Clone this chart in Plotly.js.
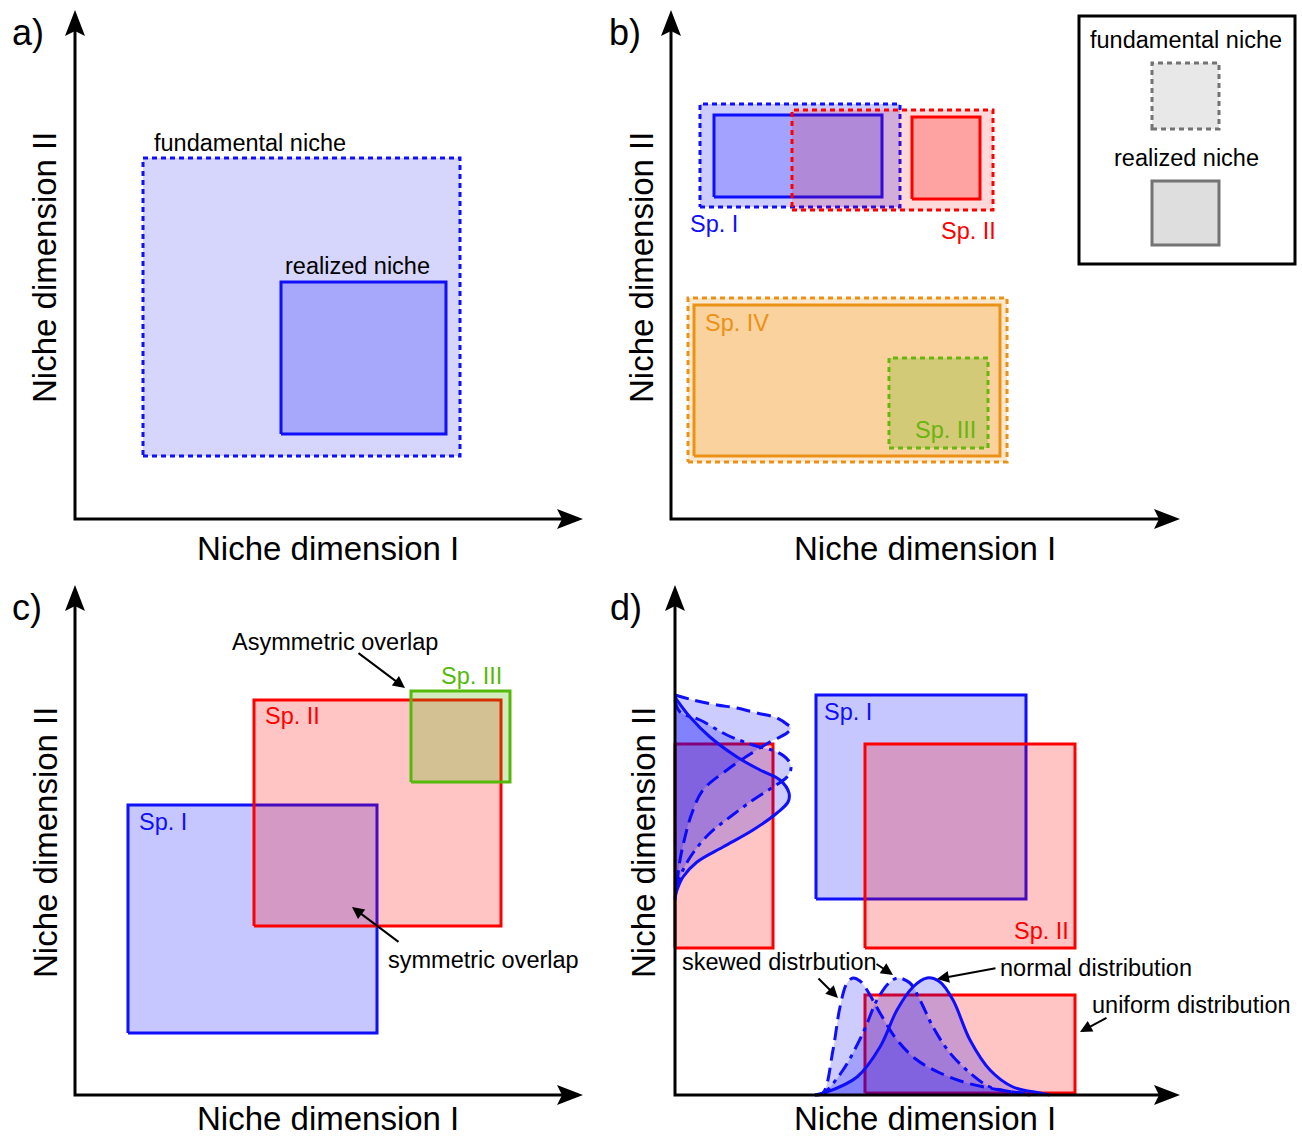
<!DOCTYPE html>
<html><head><meta charset="utf-8">
<script src="https://cdn.plot.ly/plotly-3.0.1.min.js"></script>
<style>html,body{margin:0;padding:0;background:#fff;}</style>
</head><body>
<div id="chart" style="width:1302px;height:1138px;"></div>
<script>
// ================= DATA (units: px from each panel's axis origin, y upward) =================
const panelLabels = ['a)', 'b)', 'c)', 'd)'];
const axisTitleX = 'Niche dimension I';
const axisTitleY = 'Niche dimension II';
const axisTipX = [508, 509, 508, 505];
const axisTipY = [509, 509, 510, 510];

// panel a
const aNames = ['fundamental niche', 'realized niche'];
const aX0 = [68, 206], aX1 = [385, 371], aY0 = [63, 85], aY1 = [361, 237];

// panel b
const bNames = ['Sp. I fund', 'Sp. I real', 'Sp. II fund', 'Sp. II real', 'Sp. IV fund', 'Sp. IV real', 'Sp. III fund'];
const bX0 = [29, 43, 121, 241, 17, 23, 218];
const bX1 = [229, 211, 322, 309, 336, 329, 317];
const bY0 = [312, 322, 309, 320, 57, 63, 71];
const bY1 = [415, 404, 409, 402, 221, 214, 161];
const legendItems = ['fundamental niche', 'realized niche'];

// panel c
const cNames = ['Sp. I', 'Sp. II', 'Sp. III'];
const cX0 = [53, 179, 336], cX1 = [302, 426, 435], cY0 = [62, 169, 313], cY1 = [290, 395, 404];

// panel d
const dNames = ['Sp. I', 'Sp. II', 'uniform dim II', 'uniform dim I'];
const dX0 = [141, 190, 0, 190], dX1 = [351, 400, 98, 400], dY0 = [196, 147, 147, 2], dY1 = [400, 351, 351, 100];

// distributions along niche dimension II (x = density, y = position)
const vSkewDens = [0, 18, 42, 62, 82, 102, 113, 116, 112, 95, 77, 52, 28, 17, 10, 5, 2, 0];
const vSkewPos  = [400, 395, 390, 387, 382, 377, 370, 367, 362, 353, 342, 325, 305, 282, 258, 235, 212, 195];
const vMidDens  = [0, 5, 25, 52, 78, 102, 113, 116, 112, 98, 78, 55, 35, 18, 8, 3, 0];
const vMidPos   = [395, 383, 375, 360, 350, 343, 335, 327, 318, 308, 295, 278, 262, 242, 225, 212, 200];
const vNormDens = [0, 2, 15, 35, 62, 85, 105, 114, 113, 102, 78, 48, 22, 8, 2, 0];
const vNormPos  = [398, 395, 378, 358, 338, 325, 315, 302, 293, 282, 265, 248, 233, 218, 205, 198];

// distributions along niche dimension I (x = position, y = density)
const hSkewPos  = [140, 148, 158, 165, 172, 178, 185, 192, 205, 222, 242, 265, 292, 325, 355];
const hSkewDens = [0, 2, 45, 88, 112, 117, 114, 105, 82, 55, 35, 22, 12, 5, 1];
const hMidPos   = [143, 150, 168, 188, 202, 215, 223, 235, 245, 258, 275, 295, 315, 338, 355];
const hMidDens  = [0, 3, 25, 62, 95, 113, 117, 112, 95, 68, 42, 22, 8, 3, 0];
const hNormPos  = [140, 152, 182, 205, 222, 238, 252, 265, 278, 295, 315, 338, 365, 375];
const hNormDens = [0, 3, 18, 48, 85, 108, 117, 113, 95, 55, 25, 8, 2, 0];

// ================= LAYOUT HELPERS =================
const W = 1302, H = 1138;
const FONT = 'Liberation Sans, Arial, sans-serif';
const origins = [[75, 519], [671, 519], [75, 1095], [675, 1095]];
const XR = [-12, 520], YR = [-12, 517];
const BLUE = 'rgb(15,15,250)', RED = 'rgb(255,0,0)', ORANGE = 'rgb(234,145,22)', GREEN = 'rgb(105,180,15)', GREENC = 'rgb(85,185,10)';

const px2paperX = p => p / W;
const px2paperY = p => 1 - p / H;
const sfx = i => (i === 0 ? '' : String(i + 1));

const traces = [];
function rect(i, x0, x1, y0, y1, fill, lineColor, dash, width) {
  traces.push({
    type: 'scatter', mode: 'lines', xaxis: 'x' + sfx(i), yaxis: 'y' + sfx(i),
    x: [x0, x1, x1, x0, x0], y: [y0, y0, y1, y1, y0],
    fill: 'toself', fillcolor: fill,
    line: {color: lineColor, width: width || 3, dash: dash || 'solid'},
    hoverinfo: 'skip', showlegend: false, cliponaxis: false
  });
}
function curve(i, xs, ys, fillMode, dash) {
  traces.push({
    type: 'scatter', mode: 'lines', xaxis: 'x' + sfx(i), yaxis: 'y' + sfx(i),
    x: xs, y: ys, fill: fillMode, fillcolor: 'rgba(0,0,255,0.2)',
    line: {color: BLUE, width: 3, dash: dash, shape: 'spline', smoothing: 1},
    hoverinfo: 'skip', showlegend: false
  });
}
function axesLine(i) {
  traces.push({
    type: 'scatter', mode: 'lines', xaxis: 'x' + sfx(i), yaxis: 'y' + sfx(i),
    x: [0, 0, axisTipX[i] - 20], y: [axisTipY[i] - 20, 0, 0],
    line: {color: 'black', width: 3}, hoverinfo: 'skip', showlegend: false
  });
}

// panel a
const aStyle = [
  ['rgb(214,214,252)', BLUE, '5px,4px'],
  ['rgb(167,167,252)', BLUE, 'solid']
];
aNames.forEach((n, k) => rect(0, aX0[k], aX1[k], aY0[k], aY1[k], aStyle[k][0], aStyle[k][1], aStyle[k][2]));
axesLine(0);

// panel b
const bStyle = [
  ['rgba(0,0,255,0.2)', BLUE, '5px,4px'],
  ['rgba(0,0,255,0.2)', BLUE, 'solid'],
  ['rgba(255,0,0,0.15)', RED, '5px,4px'],
  ['rgba(255,0,0,0.25)', RED, 'solid'],
  ['rgba(240,150,30,0.22)', ORANGE, '5px,4px'],
  ['rgba(240,150,30,0.27)', ORANGE, 'solid'],
  ['rgba(110,180,20,0.27)', GREEN, '5px,4px']
];
bNames.forEach((n, k) => rect(1, bX0[k], bX1[k], bY0[k], bY1[k], bStyle[k][0], bStyle[k][1], bStyle[k][2]));
axesLine(1);

// panel c
const cStyle = [
  ['rgba(0,0,255,0.22)', BLUE],
  ['rgba(255,0,0,0.23)', RED],
  ['rgba(80,180,0,0.25)', GREENC]
];
cNames.forEach((n, k) => rect(2, cX0[k], cX1[k], cY0[k], cY1[k], cStyle[k][0], cStyle[k][1], 'solid'));
axesLine(2);

// panel d
const dStyle = [
  ['rgba(0,0,255,0.22)', BLUE],
  ['rgba(255,0,0,0.23)', RED],
  ['rgba(255,0,0,0.23)', RED],
  ['rgba(255,0,0,0.23)', RED]
];
dNames.forEach((n, k) => rect(3, dX0[k], dX1[k], dY0[k], dY1[k], dStyle[k][0], dStyle[k][1], 'solid'));
curve(3, vSkewDens, vSkewPos, 'tozerox', '14px,7px');
curve(3, vMidDens, vMidPos, 'tozerox', '14px,6px,4px,6px');
curve(3, vNormDens, vNormPos, 'tozerox', 'solid');
curve(3, hSkewPos, hSkewDens, 'tozeroy', '14px,7px');
curve(3, hMidPos, hMidDens, 'tozeroy', '14px,6px,4px,6px');
curve(3, hNormPos, hNormDens, 'tozeroy', 'solid');
axesLine(3);

// axes domains
const layout = {
  width: W, height: H, margin: {l: 0, r: 0, t: 0, b: 0},
  paper_bgcolor: 'white', plot_bgcolor: 'rgba(0,0,0,0)',
  showlegend: false, shapes: [], annotations: []
};
for (let i = 0; i < 4; i++) {
  const [ox, oy] = origins[i];
  layout['xaxis' + sfx(i)] = {
    domain: [px2paperX(ox + XR[0]), px2paperX(ox + XR[1])], range: XR, visible: false,
    fixedrange: true, anchor: 'y' + sfx(i)
  };
  layout['yaxis' + sfx(i)] = {
    domain: [px2paperY(oy - YR[0]), px2paperY(oy - YR[1])], range: YR, visible: false,
    fixedrange: true, anchor: 'x' + sfx(i)
  };
  // arrowheads (pixel sized, anchored at axis tips)
  layout.shapes.push({
    type: 'path', xref: 'x' + sfx(i), yref: 'y' + sfx(i), xsizemode: 'pixel', ysizemode: 'pixel',
    xanchor: axisTipX[i], yanchor: 0, path: 'M0,0L-26,10L-21,0L-26,-10Z',
    fillcolor: 'black', line: {width: 0}
  });
  layout.shapes.push({
    type: 'path', xref: 'x' + sfx(i), yref: 'y' + sfx(i), xsizemode: 'pixel', ysizemode: 'pixel',
    xanchor: 0, yanchor: axisTipY[i], path: 'M0,0L-10,-26L0,-21L10,-26Z',
    fillcolor: 'black', line: {width: 0}
  });
}

// paper-level texts: panel letters and axis titles
const labelPos = [[28, 32], [625, 32], [27, 607], [626, 607]];
const xTitlePos = [[328, 548], [925, 548], [328, 1118], [925, 1118]];
const yTitlePos = [[45, 268], [642, 268], [45, 843], [643, 843]];
for (let i = 0; i < 4; i++) {
  layout.annotations.push({xref: 'paper', yref: 'paper', x: px2paperX(labelPos[i][0]), y: px2paperY(labelPos[i][1]),
    text: panelLabels[i], showarrow: false, xanchor: 'center', yanchor: 'middle', font: {family: FONT, size: 36, color: 'black'}});
  layout.annotations.push({xref: 'paper', yref: 'paper', x: px2paperX(xTitlePos[i][0]), y: px2paperY(xTitlePos[i][1]),
    text: axisTitleX, showarrow: false, xanchor: 'center', yanchor: 'middle', font: {family: FONT, size: 33, color: 'black'}});
  layout.annotations.push({xref: 'paper', yref: 'paper', x: px2paperX(yTitlePos[i][0]), y: px2paperY(yTitlePos[i][1]),
    text: axisTitleY, textangle: -90, showarrow: false, xanchor: 'center', yanchor: 'middle', font: {family: FONT, size: 33, color: 'black'}});
}

// in-panel text
function txt(i, x, y, text, color, anchor) {
  layout.annotations.push({xref: 'x' + sfx(i), yref: 'y' + sfx(i), x: x, y: y, text: text, showarrow: false,
    xanchor: anchor, yanchor: 'middle', font: {family: FONT, size: 23.5, color: color}});
}
function arrow(i, tx, ty, fx, fy) {
  layout.annotations.push({xref: 'x' + sfx(i), yref: 'y' + sfx(i), axref: 'x' + sfx(i), ayref: 'y' + sfx(i),
    x: tx, y: ty, ax: fx, ay: fy, text: '', showarrow: true, arrowhead: 2, arrowsize: 1.2, arrowwidth: 2, arrowcolor: 'black'});
}
txt(0, 77, 376, 'fundamental niche', 'black', 'left');
txt(0, 208, 253, 'realized niche', 'black', 'left');

txt(1, 17, 295, 'Sp. I', BLUE, 'left');
txt(1, 327, 288, 'Sp. II', RED, 'right');
txt(1, 32, 196, 'Sp. IV', ORANGE, 'left');
txt(1, 307, 89, 'Sp. III', GREEN, 'right');

txt(2, 188, 379, 'Sp. II', RED, 'left');
txt(2, 62, 273, 'Sp. I', BLUE, 'left');
txt(2, 396, 419, 'Sp. III', GREENC, 'center');
txt(2, 155, 453, 'Asymmetric overlap', 'black', 'left');
txt(2, 311, 135, 'symmetric overlap', 'black', 'left');
arrow(2, 330, 407, 282, 443);
arrow(2, 277, 188, 325, 152);

txt(3, 147, 383, 'Sp. I', BLUE, 'left');
txt(3, 396, 164, 'Sp. II', RED, 'right');
txt(3, 5, 133, 'skewed distrbution', 'black', 'left');
txt(3, 323, 127, 'normal distribution', 'black', 'left');
txt(3, 415, 90, 'uniform distribution', 'black', 'left');
arrow(3, 163, 97, 142, 118);
arrow(3, 218, 120, 200, 132);
arrow(3, 262, 116, 322, 127);
arrow(3, 405, 63, 433, 78);

// legend of panel b (paper coords)
const lgBox = [1079, 1295, 16, 264];
layout.shapes.push({type: 'rect', xref: 'paper', yref: 'paper', x0: px2paperX(lgBox[0]), x1: px2paperX(lgBox[1]),
  y0: px2paperY(lgBox[3]), y1: px2paperY(lgBox[2]), line: {color: 'black', width: 3}, fillcolor: 'white'});
layout.shapes.push({type: 'rect', xref: 'paper', yref: 'paper', x0: px2paperX(1152), x1: px2paperX(1219),
  y0: px2paperY(129), y1: px2paperY(63), line: {color: 'rgb(115,115,115)', width: 3, dash: '5px,4px'}, fillcolor: 'rgb(232,232,232)'});
layout.shapes.push({type: 'rect', xref: 'paper', yref: 'paper', x0: px2paperX(1152), x1: px2paperX(1219),
  y0: px2paperY(245), y1: px2paperY(181), line: {color: 'rgb(115,115,115)', width: 3}, fillcolor: 'rgb(222,222,222)'});
layout.annotations.push({xref: 'paper', yref: 'paper', x: px2paperX(1186), y: px2paperY(40), text: legendItems[0],
  showarrow: false, xanchor: 'center', yanchor: 'middle', font: {family: FONT, size: 23.5, color: 'black'}});
layout.annotations.push({xref: 'paper', yref: 'paper', x: px2paperX(1186), y: px2paperY(158), text: legendItems[1],
  showarrow: false, xanchor: 'center', yanchor: 'middle', font: {family: FONT, size: 23.5, color: 'black'}});

Plotly.newPlot('chart', traces, layout, {staticPlot: true, displayModeBar: false});
</script>
</body></html>
